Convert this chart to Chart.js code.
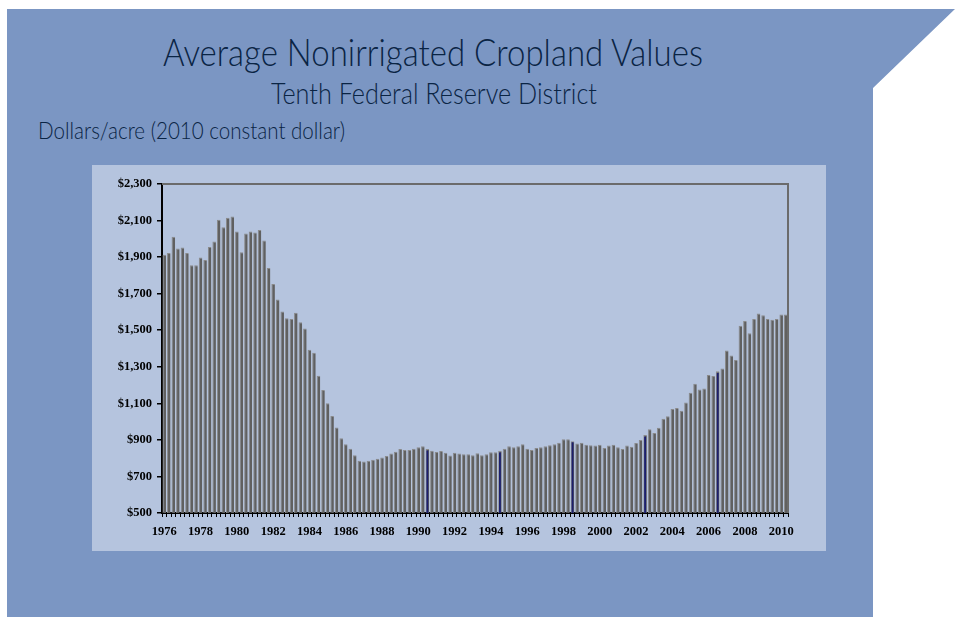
<!DOCTYPE html>
<html>
<head>
<meta charset="utf-8">
<script src="https://cdn.jsdelivr.net/npm/chart.js@4.4.1/dist/chart.umd.min.js"></script>
<style>
  body { margin: 0; width: 956px; height: 618px; background: #fff; overflow: hidden; position: relative; }
  #panel { position: absolute; left: 0; top: 0; width: 956px; height: 618px; background: #7b96c3;
    clip-path: polygon(7px 9px, 955px 9px, 873px 88px, 873px 617px, 7px 617px); }
  .txt { position: absolute; white-space: nowrap; line-height: 1; color: #0a2444; font-family: Lato, "Open Sans", sans-serif; font-weight: 300; }
  .txt span { display: inline-block; transform-origin: 0 0; }
  #box { position: absolute; left: 92px; top: 165px; width: 734px; height: 386px; background: #b5c4de; }
</style>
</head>
<body>
<div id="panel"></div>
<div class="txt" id="t1" style="top:32px;font-size:38px"><span>Average Nonirrigated Cropland Values</span></div>
<div class="txt" id="t2" style="top:78px;font-size:29px"><span>Tenth Federal Reserve District</span></div>
<div class="txt" id="t3" style="top:118px;font-size:24px"><span>Dollars/acre (2010 constant dollar)</span></div>
<div id="box"><canvas id="cropChart" width="734" height="386"></canvas></div>
<script>
// quarterly values, 1976Q1 - 2010Q2
var values = [
  1913, 1922, 2011, 1947, 1953, 1922, 1855, 1855, 1898, 1884, 1956, 1985,
  2104, 2064, 2116, 2122, 2040, 1927, 2029, 2040, 2035, 2049, 1991, 1840,
  1753, 1668, 1602, 1566, 1562, 1596, 1544, 1509, 1393, 1377, 1251, 1173,
  1100, 1031, 968, 909, 876, 851, 816, 786, 782, 786, 792, 797,
  803, 812, 826, 835, 850, 845, 845, 851, 860, 865, 850, 840,
  834, 839, 829, 815, 830, 826, 822, 822, 816, 827, 816, 822,
  833, 833, 840, 851, 865, 860, 865, 876, 851, 845, 856, 860,
  865, 871, 876, 885, 904, 904, 893, 880, 884, 874, 870, 869,
  874, 856, 869, 874, 860, 850, 869, 863, 883, 900, 927, 958,
  938, 967, 1016, 1030, 1069, 1074, 1060, 1105, 1158, 1207, 1176, 1181,
  1255, 1249, 1275, 1291, 1389, 1362, 1337, 1524, 1551, 1484, 1562, 1591,
  1582, 1562, 1557, 1562, 1586, 1586
];
var yearTicks = ['1976', '1978', '1980', '1982', '1984', '1986', '1988', '1990', '1992',
  '1994', '1996', '1998', '2000', '2002', '2004', '2006', '2008', '2010'];
// thin dark lines inside a few bars
var navyIdx = [58, 74, 90, 106, 122];
var navyVals = [840, 829, 885, 916, 1264];

var labels = values.map(function (v, i) {
  return (1976 + Math.floor(i / 4)) + ' Q' + (i % 4 + 1);
});
var navyData = values.map(function () { return null; });
navyIdx.forEach(function (idx, j) { navyData[idx] = navyVals[j]; });

// size the header texts to the widths in the picture
function fit(id, left, width) {
  var d = document.getElementById(id), s = d.firstChild;
  var w = s.getBoundingClientRect().width;
  s.style.transform = 'scaleX(' + (width / w) + ')';
  d.style.left = left + 'px';
}
fit('t1', 163, 540);
fit('t2', 271, 326);
fit('t3', 38, 307);

var framePlugin = {
  id: 'frame',
  afterDatasetsDraw: function (chart) {
    var a = chart.chartArea, ctx = chart.ctx;
    ctx.save();
    ctx.strokeStyle = '#6b6b6b';
    ctx.lineWidth = 2;
    ctx.beginPath();
    ctx.moveTo(a.left, a.top);
    ctx.lineTo(a.right, a.top);
    ctx.lineTo(a.right, a.bottom);
    ctx.stroke();
    ctx.restore();
  }
};

var tickFont = { family: '"Liberation Serif", "Times New Roman", serif', size: 12.5, weight: 'bold' };

var cropChart = new Chart(document.getElementById('cropChart'), {
  type: 'bar',
  data: {
    labels: labels,
    datasets: [
      {
        data: navyData,
        backgroundColor: '#1c1f6e',
        borderWidth: 0,
        barThickness: 1.2,
        grouped: false,
        order: 0
      },
      {
        data: values,
        backgroundColor: '#606060',
        borderColor: '#8a8a8a',
        borderWidth: { top: 1, left: 1, right: 0, bottom: 0 },
        categoryPercentage: 1,
        barPercentage: 0.78,
        grouped: false,
        order: 1
      }
    ]
  },
  options: {
    responsive: false,
    animation: false,
    devicePixelRatio: 1,
    layout: { padding: { left: 0, top: 19, right: 38, bottom: 0 } },
    plugins: { legend: { display: false }, tooltip: { enabled: false } },
    scales: {
      x: {
        afterFit: function (s) { s.height = 38; },
        grid: { offset: true, drawOnChartArea: false, tickLength: 4, color: '#000', lineWidth: 1 },
        border: { color: '#000', width: 2 },
        ticks: {
          autoSkip: false, maxRotation: 0, minRotation: 0, padding: 7,
          color: '#000', font: tickFont,
          callback: function (v, i) { return i % 8 === 0 ? yearTicks[i / 8] : ''; }
        }
      },
      y: {
        min: 500, max: 2300,
        afterFit: function (s) { s.width = 70; },
        grid: { drawOnChartArea: false, tickLength: 5, color: '#000', lineWidth: 1.5 },
        border: { color: '#000', width: 2 },
        ticks: {
          stepSize: 200, padding: 5, color: '#000', font: tickFont,
          callback: function (v) { return '$' + v.toLocaleString('en-US'); }
        }
      }
    }
  },
  plugins: [framePlugin]
});
</script>
</body>
</html>
